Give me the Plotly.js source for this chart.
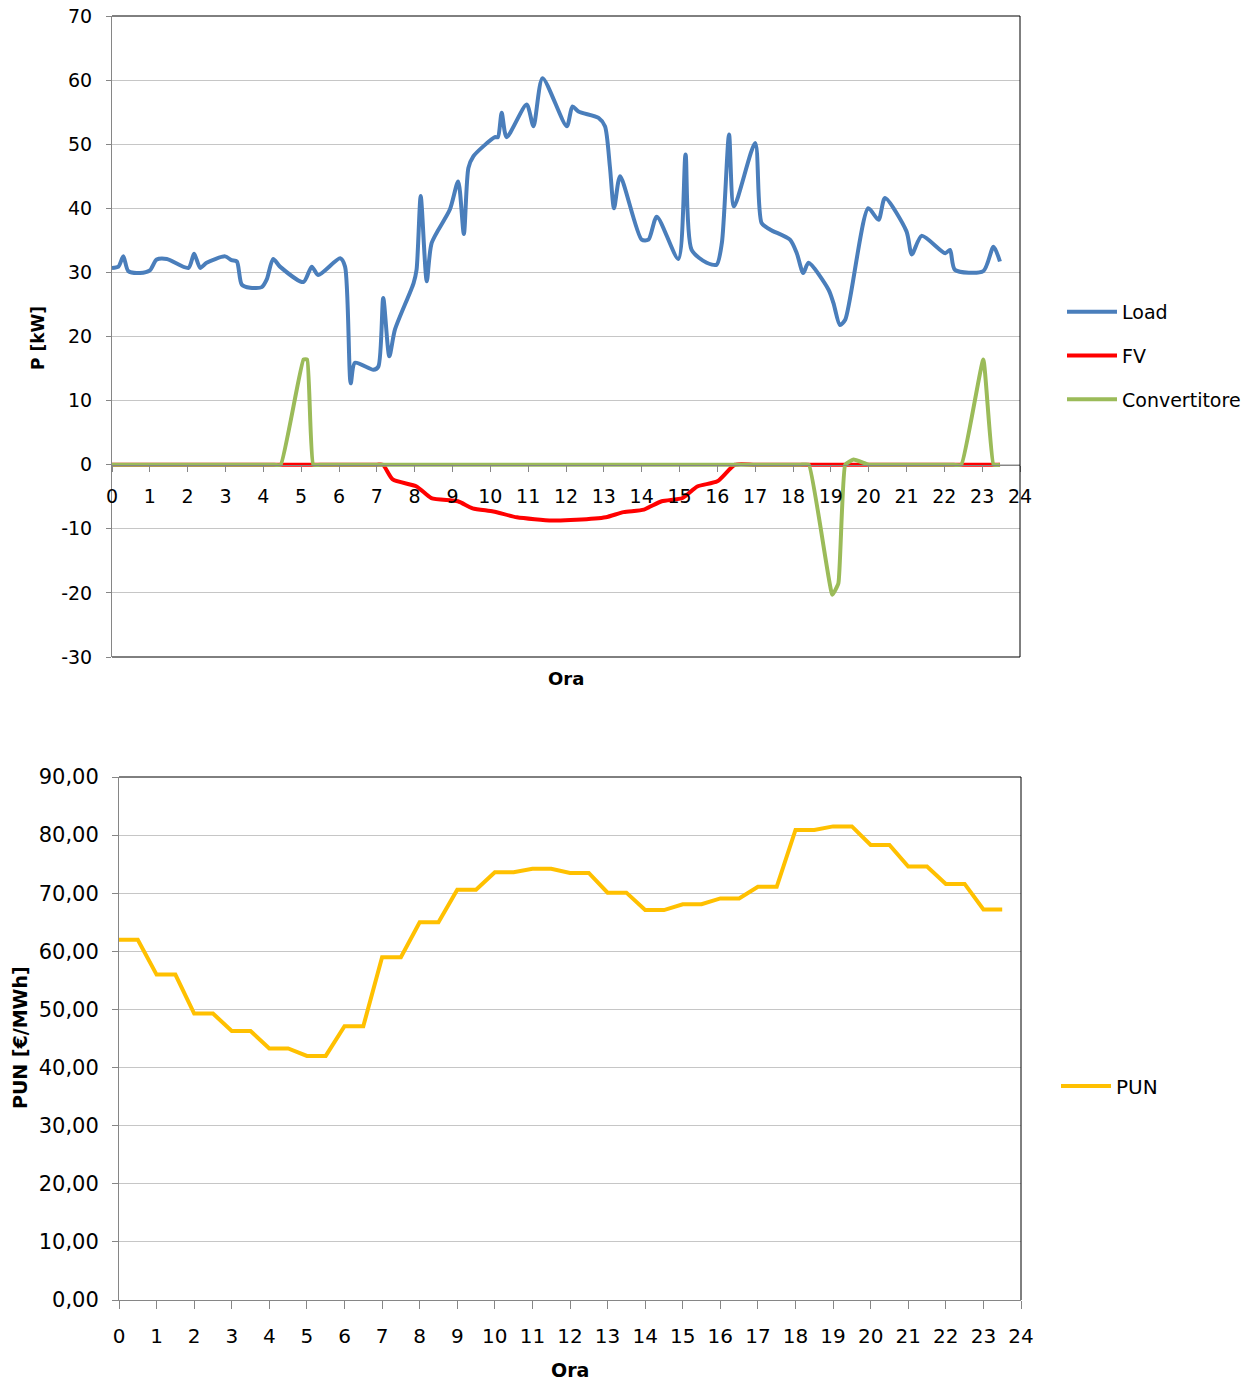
<!DOCTYPE html>
<html>
<head>
<meta charset="utf-8">
<script src="https://cdn.plot.ly/plotly-3.0.1.min.js"></script>
<style>html,body{margin:0;padding:0;background:#fff;}#chart{width:1258px;height:1385px;}</style>
</head>
<body>
<div id="chart"></div>
<script>
// ---- Data ----
var loadHours = [0.00,0.17,0.30,0.43,0.74,1.00,1.18,1.45,2.02,2.17,2.33,2.50,2.99,3.16,3.30,3.43,3.65,3.96,4.09,4.26,4.44,5.06,5.28,5.45,6.03,6.16,6.31,6.42,6.91,7.04,7.17,7.33,7.48,7.97,8.05,8.16,8.32,8.45,8.93,9.15,9.30,9.42,9.55,9.82,10.12,10.20,10.30,10.43,10.96,11.14,11.38,12.02,12.17,12.33,12.86,13.03,13.16,13.27,13.43,14.00,14.18,14.40,14.97,15.16,15.32,15.72,15.98,16.12,16.31,16.44,17.00,17.17,17.39,17.92,18.10,18.27,18.41,18.94,19.07,19.24,19.38,19.99,20.26,20.43,21.00,21.14,21.40,22.02,22.15,22.28,23.03,23.30,23.47];
var loadKW = [30.7,30.9,32.5,30.2,29.9,30.3,32.0,32.1,30.7,32.9,30.7,31.5,32.5,31.9,31.7,28.1,27.6,27.7,28.9,32.1,30.9,28.5,30.9,29.6,32.2,30.9,12.7,15.9,14.8,15.3,26.0,16.9,21.1,28.3,30.4,41.9,28.6,34.6,39.8,44.2,36.0,46.3,48.1,49.7,51.1,51.1,54.9,51.1,56.2,52.8,60.3,52.8,55.9,55.1,54.1,52.8,46.5,40.0,45.0,35.1,35.1,38.7,32.1,48.4,33.5,31.5,31.2,34.6,51.5,40.3,50.2,37.7,36.7,35.1,33.0,29.9,31.5,27.3,25.2,21.8,22.6,40.0,38.2,41.6,36.4,32.8,35.7,33.0,33.5,30.4,30.2,34.0,31.7];

var fvHours = [0,1,2,3,4,5,6,7,7.16,7.42,8.05,8.44,9.14,9.53,10.08,10.70,11.64,12.27,13.05,13.52,14.06,14.53,15.08,15.47,16.00,16.47,17,18,19,20,21,22,23,23.47];
var fvKW    = [0,0,0,0,0,0,0,0,0,-2.3,-3.4,-5.2,-5.7,-6.8,-7.3,-8.2,-8.7,-8.6,-8.2,-7.4,-7.0,-5.7,-5.2,-3.4,-2.6,0,0,0,0,0,0,0,0,0];

var convHours = [0,1,2,3,4,4.25,4.46,5.06,5.16,5.32,5.55,6,7,8,9,10,11,12,13,14,15,16,17,18,18.2,18.42,19.04,19.20,19.38,19.60,20.00,20.25,21,22,22.2,22.45,23.03,23.30,23.47];
var convKW    = [0,0,0,0,0,0,0,16.4,16.4,0,0,0,0,0,0,0,0,0,0,0,0,0,0,0,0,0,-20.3,-18.5,0,0.8,0,0,0,0,0,0,16.4,0,0];

// PUN hourly price (€/MWh), hours 0..23 ; each value held for the first half hour
var punHour = [0,1,2,3,4,5,6,7,8,9,10,11,12,13,14,15,16,17,18,19,20,21,22,23];
var punVal  = [62.0,56.0,49.3,46.3,43.3,42.0,47.1,59.0,65.0,70.6,73.6,74.2,73.5,70.1,67.1,68.1,69.1,71.1,80.9,81.5,78.3,74.6,71.6,67.2];

var hourTicks = [0,1,2,3,4,5,6,7,8,9,10,11,12,13,14,15,16,17,18,19,20,21,22,23,24];
var pTicks = [-30,-20,-10,0,10,20,30,40,50,60,70];
var pTickText = ['-30','-20','-10','0','10','20','30','40','50','60','70'];

// ---- Build PUN trace (hold for half hour, then ramp) ----
var punX = [], punY = [];
for (var i = 0; i < punHour.length; i++) {
  punX.push(punHour[i], punHour[i] + 0.5);
  punY.push(punVal[i], punVal[i]);
}

// ---- Geometry helpers ----
var W = 1258, H = 1385;
function fx(p){ return p / W; }
function fy(p){ return 1 - p / H; }

var topDomY = [fy(657), fy(16)];
var topZeroPos = topDomY[0] + (0 - (-30)) / 100 * (topDomY[1] - topDomY[0]);

var FONT = 'DejaVu Sans';
var axisGray = '#868686';
var gridGray = '#c6c6c6';

var traces = [
  {x: loadHours, y: loadKW, name: 'Load', type: 'scatter', mode: 'lines',
   line: {color: '#4a7ebb', width: 4, shape: 'spline', smoothing: 0.7},
   xaxis: 'x', yaxis: 'y', legend: 'legend', legendgroup: 'a'},
  {x: fvHours, y: fvKW, name: 'FV', type: 'scatter', mode: 'lines',
   line: {color: '#ff0000', width: 4, shape: 'spline', smoothing: 0.6},
   xaxis: 'x', yaxis: 'y', legend: 'legend', legendgroup: 'b'},
  {x: convHours, y: convKW, name: 'Convertitore', type: 'scatter', mode: 'lines',
   line: {color: '#9bbb59', width: 4, shape: 'spline', smoothing: 0.35},
   xaxis: 'x', yaxis: 'y', legend: 'legend', legendgroup: 'c'},
  {x: punX, y: punY, name: 'PUN', type: 'scatter', mode: 'lines',
   line: {color: '#ffc000', width: 4},
   xaxis: 'x2', yaxis: 'y2', legend: 'legend2'}
];

var layout = {
  width: W, height: H,
  margin: {l: 0, r: 0, t: 0, b: 0},
  paper_bgcolor: '#ffffff', plot_bgcolor: '#ffffff',
  separators: ',.',
  font: {family: FONT, color: '#000000', size: 19},
  xaxis: {
    domain: [fx(112), fx(1020)], anchor: 'free', position: topZeroPos,
    range: [0, 24], tickvals: hourTicks, ticktext: hourTicks.map(String),
    showline: true, linecolor: axisGray, linewidth: 1,
    ticks: 'outside', ticklen: 6, tickcolor: axisGray,
    showgrid: false, zeroline: false,
    tickfont: {family: FONT, size: 19, color: '#000'}, ticklabelstandoff: 8
  },
  yaxis: {
    domain: topDomY, anchor: 'x',
    range: [-30, 70], tickvals: pTicks, ticktext: pTickText,
    showline: true, linecolor: axisGray, linewidth: 1,
    ticks: 'outside', ticklen: 5, tickcolor: axisGray,
    showgrid: true, gridcolor: gridGray, gridwidth: 1, zeroline: false,
    tickfont: {family: FONT, size: 19, color: '#000'}, ticklabelstandoff: 10
  },
  xaxis2: {
    domain: [fx(119), fx(1021)], anchor: 'y2',
    range: [0, 24], tickvals: hourTicks, ticktext: hourTicks.map(String),
    showline: true, linecolor: axisGray, linewidth: 1,
    ticks: 'outside', ticklen: 8, tickcolor: axisGray,
    showgrid: false, zeroline: false,
    tickfont: {family: FONT, size: 20, color: '#000'}, ticklabelstandoff: 10
  },
  yaxis2: {
    domain: [fy(1300), fy(777)], anchor: 'x2',
    range: [0, 90], dtick: 10, tick0: 0, tickformat: '.2f',
    showline: true, linecolor: axisGray, linewidth: 1,
    ticks: 'outside', ticklen: 6, tickcolor: axisGray,
    showgrid: true, gridcolor: gridGray, gridwidth: 1, zeroline: false,
    tickfont: {family: FONT, size: 21, color: '#000'}, ticklabelstandoff: 9
  },
  legend: {
    x: fx(1062), y: fy(293), xanchor: 'left', yanchor: 'top',
    font: {family: FONT, size: 19, color: '#000'}, itemwidth: 50,
    bgcolor: 'rgba(0,0,0,0)', tracegroupgap: 16, traceorder: 'grouped'
  },
  legend2: {
    x: fx(1056), y: fy(1086), xanchor: 'left', yanchor: 'middle',
    font: {family: FONT, size: 20, color: '#000'}, itemwidth: 50,
    bgcolor: 'rgba(0,0,0,0)'
  },
  shapes: [
    {type: 'line', xref: 'x domain', yref: 'y domain', x0: 0, x1: 1, y0: 1, y1: 1, line: {color: '#000', width: 1}},
    {type: 'line', xref: 'x domain', yref: 'y domain', x0: 1, x1: 1, y0: 0, y1: 1, line: {color: '#000', width: 1}},
    {type: 'line', xref: 'x domain', yref: 'y domain', x0: 0, x1: 1, y0: 0, y1: 0, line: {color: '#000', width: 1}},
    {type: 'line', xref: 'x2 domain', yref: 'y2 domain', x0: 0, x1: 1, y0: 1, y1: 1, line: {color: '#000', width: 1}},
    {type: 'line', xref: 'x2 domain', yref: 'y2 domain', x0: 1, x1: 1, y0: 0, y1: 1, line: {color: '#000', width: 1}}
  ],
  annotations: [
    {text: 'P [kW]', xref: 'paper', yref: 'paper', x: fx(38), y: fy(338), xanchor: 'center', yanchor: 'middle', textangle: -90,
     showarrow: false, font: {family: FONT, size: 17, weight: 'bold', color: '#000'}},
    {text: 'Ora', xref: 'paper', yref: 'paper', x: fx(566), y: fy(678), xanchor: 'center', yanchor: 'middle',
     showarrow: false, font: {family: FONT, size: 18, weight: 'bold', color: '#000'}},
    {text: 'PUN [€/MWh]', xref: 'paper', yref: 'paper', x: fx(20), y: fy(1038), xanchor: 'center', yanchor: 'middle', textangle: -90,
     showarrow: false, font: {family: FONT, size: 19, weight: 'bold', color: '#000'}},
    {text: 'Ora', xref: 'paper', yref: 'paper', x: fx(570), y: fy(1370), xanchor: 'center', yanchor: 'middle',
     showarrow: false, font: {family: FONT, size: 19, weight: 'bold', color: '#000'}}
  ],
  showlegend: true
};

Plotly.newPlot('chart', traces, layout, {displayModeBar: false, staticPlot: true});
</script>
</body>
</html>
